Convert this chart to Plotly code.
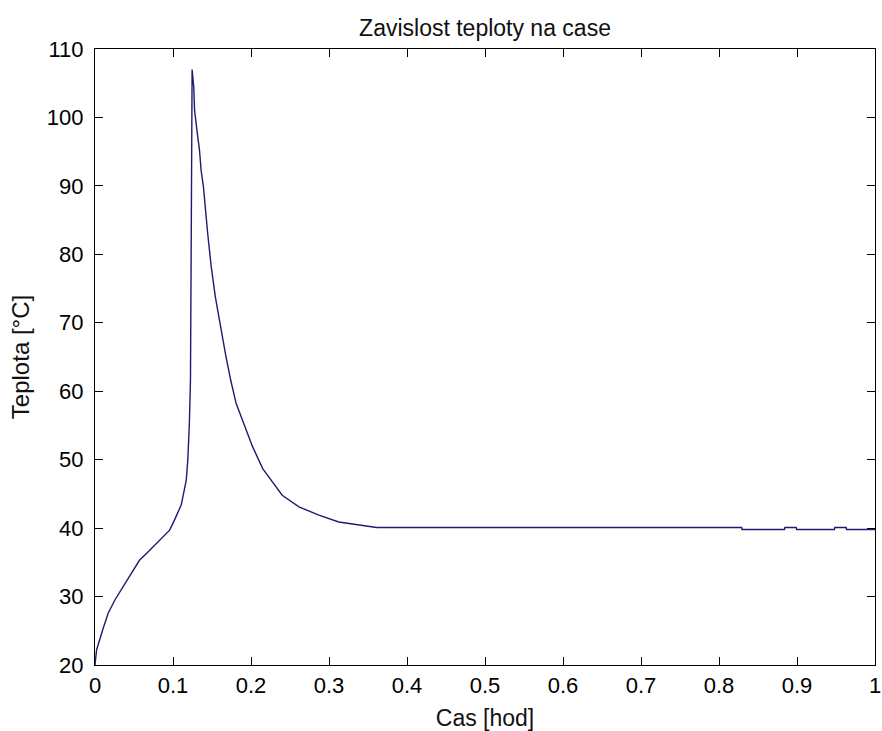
import plotly.graph_objects as go

time_h = [0, 0.002, 0.0106, 0.017, 0.0255, 0.036, 0.049, 0.057, 0.066, 0.0787,
          0.085, 0.0957, 0.102, 0.1106, 0.117, 0.119, 0.121, 0.1224, 0.1235, 0.1245,
          0.1267, 0.1276, 0.1305, 0.134, 0.136, 0.139, 0.1445, 0.149, 0.1543, 0.1616,
          0.168, 0.174, 0.181, 0.189, 0.202, 0.215, 0.227, 0.240, 0.2615, 0.287,
          0.3125, 0.338, 0.361, 0.829, 0.8295, 0.884, 0.8845, 0.899, 0.8995, 0.948,
          0.9485, 0.963, 0.9635, 1.0]
temp_c = [20, 22.2, 25.4, 27.6, 29.5, 31.4, 33.9, 35.3, 36.3, 37.8,
          38.5, 39.7, 41.2, 43.4, 47.0, 50.0, 55.4, 61.6, 85, 107,
          104.3, 101.1, 98.3, 95.2, 92.3, 89.9, 83.0, 78.2, 73.8, 68.9,
          65.0, 61.6, 58.2, 55.8, 51.9, 48.7, 46.8, 44.8, 43.1, 41.9,
          40.9, 40.5, 40.1, 40.1, 39.8, 39.8, 40.1, 40.1, 39.8, 39.8,
          40.1, 40.1, 39.8, 39.8]

FONT = "Liberation Sans, Arial, sans-serif"
TICK_FONT = dict(family=FONT, size=22, color="black")
LABEL_FONT = dict(family=FONT, size=23, color="#111111")

fig = go.Figure()
fig.add_trace(go.Scatter(x=time_h, y=temp_c, mode="lines",
                         line=dict(color="#1c1c70", width=1.4), showlegend=False))

axis_common = dict(showgrid=False, zeroline=False, showline=True, linecolor="black",
                   linewidth=1.2, mirror="allticks", ticks="inside", ticklen=8,
                   tickcolor="black", tickfont=TICK_FONT, automargin=False,
                   ticklabeloverflow="allow")

fig.update_layout(
    width=882, height=731,
    margin=dict(l=95, r=7, t=49, b=66),
    paper_bgcolor="white", plot_bgcolor="white",
    title=dict(text="Zavislost teploty na case", x=0.5, xref="paper", xanchor="center",
               y=1 - 28 / 731, yref="container", yanchor="middle",
               font=dict(family=FONT, size=23, color="#111111")),
    xaxis=dict(range=[0, 1], dtick=0.1, tick0=0,
               title=dict(text="Cas [hod]", font=LABEL_FONT),
               **axis_common),
    yaxis=dict(range=[20, 110], dtick=10, tick0=20, ticklabelstandoff=6,
               title=dict(text="Teplota [°C]", font=dict(family=FONT, size=24, color="#111111"),
                          standoff=10),
               **axis_common),
)

fig.write_html("out.html", config={"displayModeBar": False},
               post_script="document.body.style.margin='0';document.body.style.overflow='hidden';")
